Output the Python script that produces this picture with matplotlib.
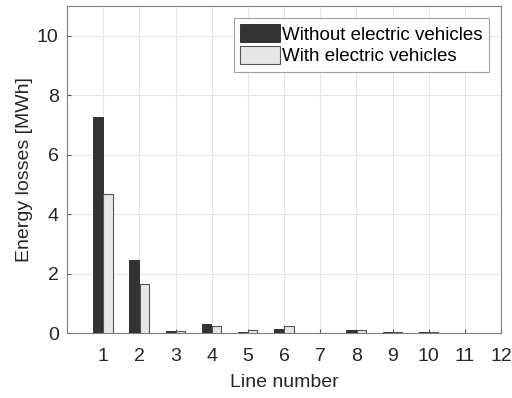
import numpy as np
import matplotlib.pyplot as plt

plt.rcParams['font.family'] = ['Liberation Sans', 'DejaVu Sans']

lines = np.arange(1, 13)
without_ev = [7.28, 2.45, 0.06, 0.29, 0.05, 0.15, 0.01, 0.11, 0.03, 0.05, 0.01, 0.0]
with_ev = [4.68, 1.65, 0.06, 0.24, 0.09, 0.22, 0.01, 0.10, 0.03, 0.05, 0.01, 0.0]

fig = plt.figure(figsize=(5.12, 3.98), dpi=100)
ax = fig.add_axes([67/512, 1 - 333/398, 434/512, 327/398])

w = 0.26
ax.bar(lines - 0.145, without_ev, w, color='#333333', edgecolor='#222222', linewidth=0.6,
       label='Without electric vehicles', zorder=3)
ax.bar(lines + 0.135, with_ev, w, color='#e6e6e6', edgecolor='#555555', linewidth=0.8,
       label='With electric vehicles', zorder=3)

ax.set_xlim(0, 12)
ax.set_ylim(0, 11)
ax.set_xticks(lines)
ax.set_yticks([0, 2, 4, 6, 8, 10])
ax.grid(True, color='#e6e6e6', linewidth=0.8, zorder=0)
ax.tick_params(direction='in', length=3, color='#555555', labelsize=14, labelcolor='#262626')
ax.tick_params(axis='x', pad=11)
ax.tick_params(axis='y', pad=6)
for s in ax.spines.values():
    s.set_color('#808080')
    s.set_linewidth(0.8)

ax.set_xlabel('Line number', fontsize=14, color='#262626', labelpad=6)
ax.set_ylabel('Energy losses [MWh]', fontsize=14, color='#262626', labelpad=3)

leg = ax.legend(loc='upper right', fontsize=13.5, fancybox=False, framealpha=1,
                edgecolor='#a0a0a0', handlelength=2.1, handleheight=1.1,
                handletextpad=0.15, borderaxespad=0.62, borderpad=0.35, labelspacing=0.12)
leg.get_frame().set_linewidth(0.8)

plt.savefig('out.png', dpi=100)
